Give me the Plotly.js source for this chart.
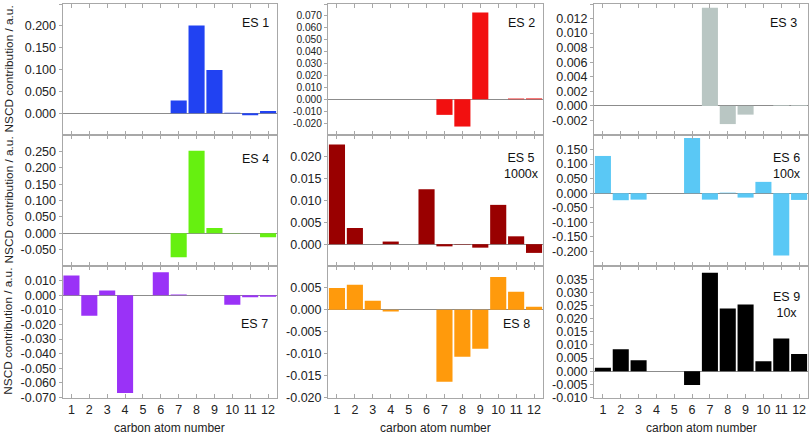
<!DOCTYPE html>
<html>
<head>
<meta charset="utf-8">
<script src="https://cdn.plot.ly/plotly-3.0.1.min.js"></script>
<style>
  html, body { margin: 0; padding: 0; background: #fff; }
  #chart { width: 810px; height: 434px; }
</style>
</head>
<body>
<div id="chart"></div>
<script>
// carbon atoms on the x axis
var carbonAtoms = [1, 2, 3, 4, 5, 6, 7, 8, 9, 10, 11, 12];

// NSCD contributions per excited state
var es1 = [0, 0, 0, 0, 0, 0, 0.029, 0.201, 0.099, 0.001, -0.005, 0.005];
var es2 = [0, 0, 0, 0, 0, 0, -0.0131, -0.0229, 0.0728, 0, 0.0006, 0.0007];
var es3 = [0, 0, 0, 0, 0, 0, 0.0135, -0.0025, -0.0012, 0, 0.0001, 0.0001];
var es4 = [0, 0, 0, 0, 0, 0, -0.073, 0.252, 0.016, 0.001, 0, -0.012];
var es5 = [0.0228, 0.0037, 0, 0.0006, 0, 0.0126, -0.0005, -0.0001, -0.0008, 0.009, 0.0018, -0.002];
var es6 = [0.128, -0.024, -0.022, 0, 0, 0.19, -0.022, 0.002, -0.015, 0.039, -0.214, -0.023];
var es7 = [0.0135, -0.014, 0.0032, -0.067, 0, 0.0158, 0.0005, 0, 0, -0.0065, -0.0014, -0.001];
var es8 = [0.005, 0.0057, 0.0021, -0.0004, 0, 0, -0.0164, -0.0107, -0.0089, 0.0075, 0.0041, 0.0007];
var es9 = [0.0013, 0.0083, 0.0042, 0, 0, -0.0052, 0.0374, 0.0238, 0.0254, 0.0038, 0.0124, 0.0065];

var stateLabels = ['ES 1', 'ES 2', 'ES 3', 'ES 4', 'ES 5<br>1000x', 'ES 6<br>100x', 'ES 7', 'ES 8', 'ES 9<br>10x'];
var barColors = ['#2142f2', '#f21010', '#b9c6c3', '#66f010', '#990000', '#5ac8f5', '#9a32f7', '#ff9a0c', '#000000'];

// y axis setup per panel: [min, max], tick start, tick end, step
var yRanges = [[-0.05, 0.25], [-0.03, 0.08], [-0.004, 0.014],
               [-0.1, 0.3], [-0.005, 0.025], [-0.25, 0.2],
               [-0.07, 0.02], [-0.02, 0.01], [-0.01, 0.04]];
var yTicks = [[0, 0.25, 0.05], [-0.02, 0.08, 0.01], [-0.002, 0.014, 0.002],
              [-0.05, 0.25, 0.05], [0, 0.02, 0.005], [-0.2, 0.15, 0.05],
              [-0.07, 0.01, 0.01], [-0.02, 0.005, 0.005], [-0.01, 0.035, 0.005]];
// label position inside each panel (domain fractions)
var labelPos = [[0.9, 0.855], [0.9, 0.857], [0.885, 0.852],
                [0.9, 0.817], [0.9, 0.761], [0.9, 0.761],
                [0.893, 0.559], [0.878, 0.559], [0.9, 0.706]];

var allValues = [es1, es2, es3, es4, es5, es6, es7, es8, es9];

var colDomains = [[62.5 / 810, 277 / 810], [328 / 810, 543 / 810], [594 / 810, 808 / 810]];
var rowDomains = [[299 / 434, 430 / 434], [168 / 434, 299 / 434], [36.5 / 434, 168 / 434]];

var FONT = 'Liberation Sans, Arial, sans-serif';
var FRAME = '#a8a8a8';

function tickList(spec) {
    var vals = [];
    var n = Math.round((spec[1] - spec[0]) / spec[2]);
    for (var i = 0; i <= n; i++) vals.push(+(spec[0] + i * spec[2]).toFixed(4));
    return vals;
}

var data = [];
var layout = {
    width: 810,
    height: 434,
    margin: { l: 0, r: 0, t: 0, b: 0 },
    paper_bgcolor: '#fff',
    plot_bgcolor: '#fff',
    showlegend: false,
    bargap: 0.1,
    font: { family: FONT, size: 12, color: '#222' },
    annotations: []
};

for (var k = 0; k < 9; k++) {
    var row = Math.floor(k / 3), col = k % 3;
    var sfx = k === 0 ? '' : String(k + 1);
    data.push({
        x: carbonAtoms,
        y: allValues[k],
        type: 'bar',
        xaxis: 'x' + sfx,
        yaxis: 'y' + sfx,
        marker: { color: barColors[k], line: { width: 0 } },
        hoverinfo: 'x+y'
    });

    var tv = tickList(yTicks[k]);
    // ES 2 has ticks every ~12 px, so its labels need a smaller font
    var tickSize = k === 1 ? 10.2 : 12.5;
    layout['xaxis' + sfx] = {
        domain: colDomains[col],
        anchor: 'y' + sfx,
        range: [0.5, 12.5],
        tickmode: 'array',
        tickvals: carbonAtoms,
        ticktext: carbonAtoms.map(String),
        showticklabels: row === 2,
        ticks: 'inside',
        ticklen: 4,
        tickcolor: FRAME,
        showline: true,
        linecolor: FRAME,
        linewidth: 1,
        mirror: 'allticks',
        showgrid: false,
        zeroline: false,
        tickfont: { size: 12.5, color: '#222' },
        fixedrange: true
    };
    layout['yaxis' + sfx] = {
        domain: rowDomains[row],
        anchor: 'x' + sfx,
        range: yRanges[k],
        tickmode: 'array',
        tickvals: tv,
        ticktext: tv.map(v => v.toFixed(3)),
        ticks: 'outside',
        ticklen: 3,
        tickcolor: FRAME,
        showline: true,
        linecolor: FRAME,
        linewidth: 1,
        mirror: true,
        showgrid: false,
        zeroline: true,
        zerolinecolor: '#8c8c8c',
        zerolinewidth: 1,
        tickfont: { size: tickSize, color: '#222' },
        fixedrange: true
    };

    layout.annotations.push({
        text: stateLabels[k],
        xref: 'x' + sfx + ' domain',
        yref: 'y' + sfx + ' domain',
        x: labelPos[k][0],
        y: labelPos[k][1],
        xanchor: 'center',
        yanchor: 'middle',
        showarrow: false,
        font: { size: 12.5, color: '#111' }
    });
}

// y titles, one per row
rowDomains.forEach(function (d) {
    layout.annotations.push({
        text: 'NSCD contribution / a.u.',
        xref: 'paper', yref: 'paper',
        x: 8 / 810, y: (d[0] + d[1]) / 2,
        xanchor: 'center', yanchor: 'middle',
        textangle: -90,
        showarrow: false,
        font: { size: 11.8, color: '#222' }
    });
});

// x titles, one per column
colDomains.forEach(function (d) {
    layout.annotations.push({
        text: 'carbon atom number',
        xref: 'paper', yref: 'paper',
        x: (d[0] + d[1]) / 2, y: 1 - 428 / 434,
        xanchor: 'center', yanchor: 'middle',
        showarrow: false,
        font: { size: 12, color: '#222' }
    });
});

Plotly.newPlot('chart', data, layout, { displayModeBar: false, staticPlot: true });
</script>
</body>
</html>
